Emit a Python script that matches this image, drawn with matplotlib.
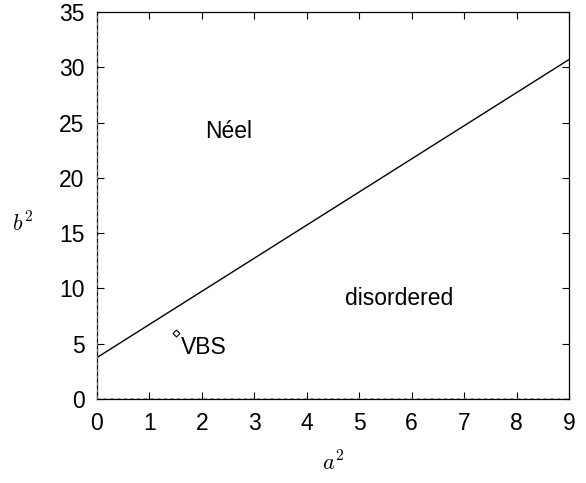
import matplotlib
matplotlib.use("Agg")
import matplotlib.pyplot as plt
import numpy as np

plt.rcParams['font.family'] = ['Liberation Sans', 'DejaVu Sans']
plt.rcParams['mathtext.fontset'] = 'cm'

# boundary line endpoints (a^2, b^2)
line_x = [0, 9]
line_y = [3.75, 30.7]
# VBS point
vbs_x = [1.5]
vbs_y = [6.0]
labels = [("Néel", 2.06, 24.2), ("disordered", 4.72, 9.1), ("VBS", 1.6, 4.7)]
xticks = list(range(0, 10))
yticks = list(range(0, 36, 5))

fig = plt.figure(figsize=(5.86, 4.83), dpi=100)
ax = fig.add_axes([0.1655, 0.1739, 0.9710 - 0.1655, 0.9752 - 0.1739])
ax.plot(line_x, line_y, color='black', lw=1.0)
ax.plot(vbs_x, vbs_y, marker='D', ms=3.5, mfc='white', mec='black', mew=0.8, ls='none')
for t, x, y in labels:
    ax.text(x, y, t, fontsize=16.5, va='center', ha='left')
ax.set_xlim(0, 9)
ax.set_ylim(0, 35)
ax.set_xticks(xticks)
ax.set_yticks(yticks)
ax.tick_params(direction='in', labelsize=16.5, length=5, width=0.8, top=True, right=True, pad=9)
for s in ax.spines.values():
    s.set_linewidth(0.9)
# dotted zero axes
ax.axhline(0, color='gray', ls=(0, (2, 2)), lw=1.2, zorder=5)
ax.axvline(0, color='gray', ls=(0, (2, 2)), lw=1.2, zorder=5)
ax.set_xlabel(r'$a^2$', fontsize=16, va='center', ha='center')
ax.xaxis.set_label_coords(0.5, -0.166)
ax.set_ylabel(r'$b^2$', fontsize=16, rotation=0, ha='center', va='center')
ax.yaxis.set_label_coords(-0.157, 0.45)
fig.savefig('out.png', dpi=100)
